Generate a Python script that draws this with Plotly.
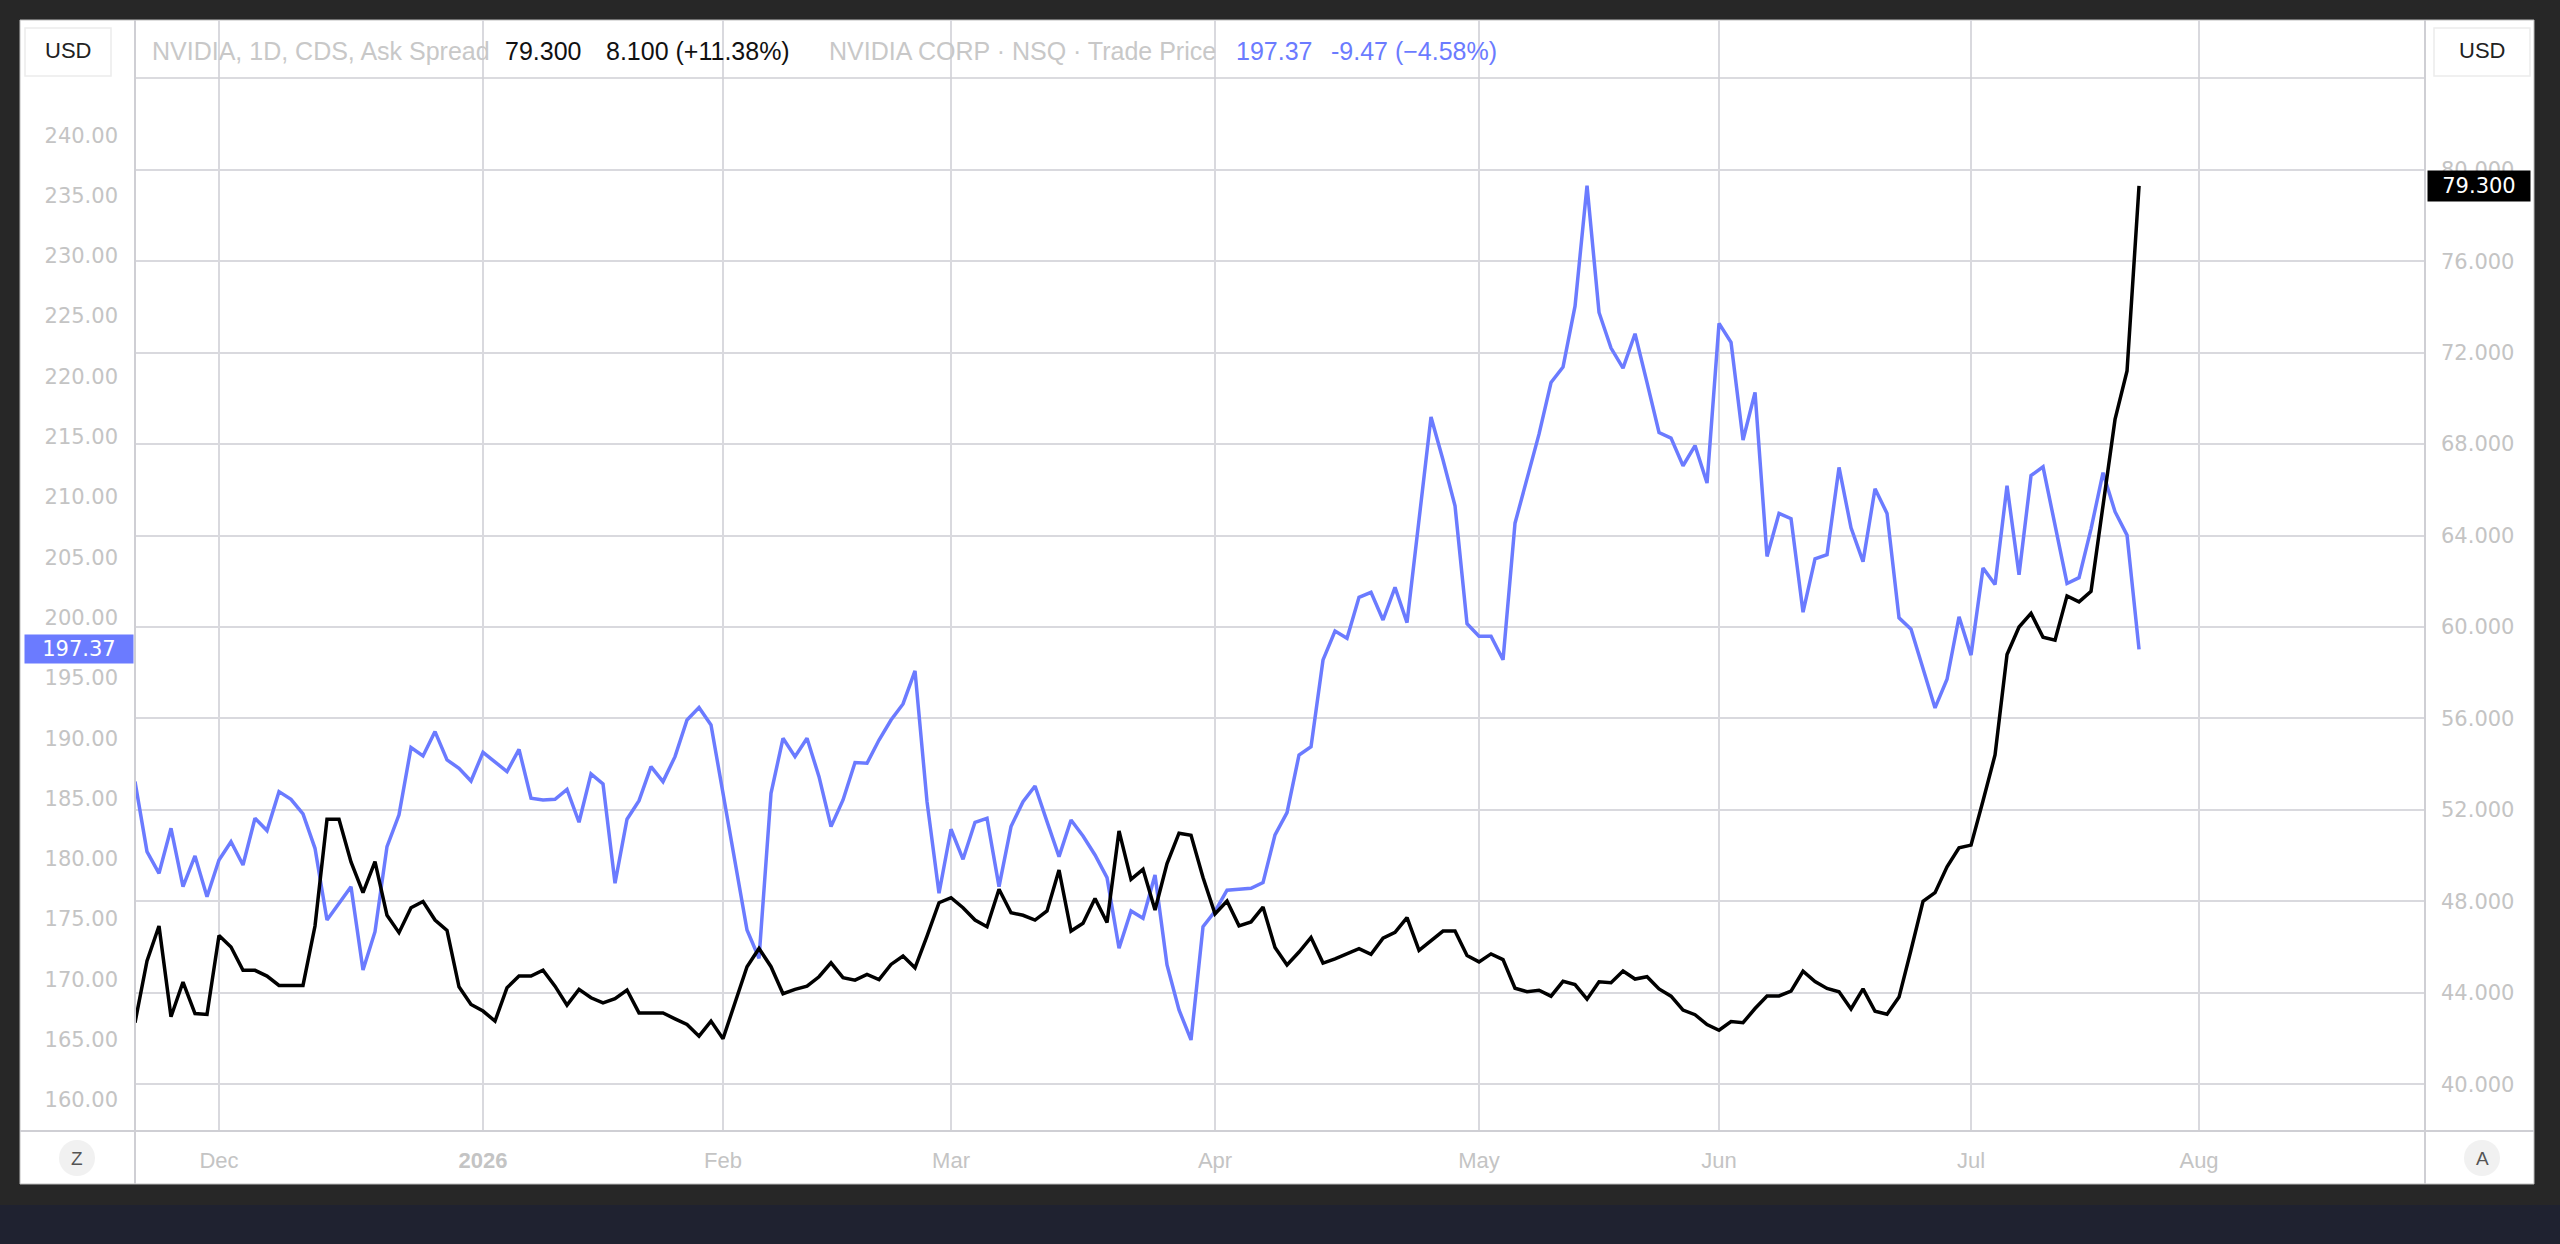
import pandas as pd
import plotly.graph_objects as go

# ---------------- data ----------------
holidays = ["2025-11-27", "2025-12-25", "2026-01-01", "2026-01-19",
            "2026-02-16", "2026-05-25", "2026-06-19", "2026-07-03"]
dates = pd.bdate_range("2025-11-19", "2026-07-22", freq="C",
                       holidays=holidays).strftime("%Y-%m-%d").tolist()

# NVIDIA, 1D, CDS, Ask Spread (right axis)
cds_ask_spread = [
    42.69, 45.39, 46.92, 42.95, 44.47, 43.09, 43.05, 46.51, 46.00, 44.98,
    44.98, 44.73, 44.32, 44.32, 44.32, 46.92, 51.59, 51.59, 49.72, 48.38,
    49.74, 47.39, 46.63, 47.72, 47.99, 47.18, 46.73, 44.26, 43.49, 43.20,
    42.76, 44.22, 44.73, 44.73, 44.99, 44.29, 43.46, 44.15, 43.78, 43.56,
    43.74, 44.12, 43.12, 43.12, 43.12, 42.86, 42.61, 42.10, 42.76, 41.99,
    43.59, 45.14, 45.94, 45.14, 43.96, 44.15, 44.29, 44.70, 45.31, 44.66,
    44.55, 44.80, 44.58, 45.24, 45.61, 45.09, 46.48, 47.94, 48.16, 47.72,
    47.18, 46.89, 48.53, 47.50, 47.39, 47.18, 47.58, 49.37, 46.70, 47.04,
    48.12, 47.07, 51.08, 48.96, 49.40, 47.62, 49.65, 50.98, 50.89, 49.04,
    47.45, 48.01, 46.93, 47.10, 47.75, 45.98, 45.22, 45.78, 46.42, 45.30,
    45.48, 45.72, 45.93, 45.68, 46.39, 46.64, 47.29, 45.85, 46.28, 46.70,
    46.70, 45.63, 45.35, 45.70, 45.45, 44.20, 44.05, 44.11, 43.85, 44.50,
    44.36, 43.72, 44.48, 44.44, 44.95, 44.60, 44.70, 44.17, 43.85, 43.24,
    43.04, 42.61, 42.36, 42.74, 42.69, 43.31, 43.86, 43.86, 44.07, 44.94,
    44.49, 44.19, 44.04, 43.29, 44.17, 43.19, 43.06, 43.81, 45.87, 48.00,
    48.38, 49.51, 50.34, 50.46, 52.40, 54.40, 58.80, 60.00, 60.60, 59.55,
    59.42, 61.36, 61.10, 61.56, 65.32, 69.08, 71.20, 79.30,
]

# NVIDIA CORP · NSQ · Trade Price (left axis)
trade_price = [
    186.40, 180.60, 178.80, 182.53, 177.69, 180.24, 176.86, 179.90, 181.42, 179.49,
    183.36, 182.34, 185.57, 184.93, 183.72, 180.87, 174.93, 176.31, 177.69, 170.78,
    173.96, 181.01, 183.64, 189.22, 188.53, 190.55, 188.20, 187.51, 186.45, 188.83,
    188.06, 187.23, 189.08, 185.02, 184.88, 184.93, 185.76, 183.03, 187.04, 186.21,
    177.97, 183.28, 184.82, 187.64, 186.40, 188.47, 191.51, 192.54, 191.10, 185.43,
    179.77, 174.10, 171.75, 185.43, 189.99, 188.47, 189.99, 186.81, 182.67, 184.88,
    187.98, 187.92, 189.85, 191.51, 192.84, 195.58, 184.74, 177.14, 182.45, 179.96,
    183.03, 183.36, 177.69, 182.67, 184.74, 186.04, 183.08, 180.18, 183.22, 181.89,
    180.32, 178.44, 172.58, 175.68, 175.07, 178.66, 171.20, 167.47, 164.98, 174.38,
    175.65, 177.40, 177.47, 177.56, 178.03, 181.98, 183.83, 188.61, 189.30, 196.49,
    198.89, 198.28, 201.68, 202.10, 199.80, 202.51, 199.58, 208.31, 216.64, 213.07,
    209.26, 199.50, 198.46, 198.46, 196.50, 207.83, 211.64, 215.21, 219.49, 220.78,
    225.82, 235.82, 225.30, 222.35, 220.68, 223.54, 219.49, 215.35, 214.88, 212.59,
    214.26, 211.16, 224.40, 222.83, 214.73, 218.68, 205.07, 208.64, 208.21, 200.45,
    204.88, 205.21, 212.45, 207.45, 204.64, 210.69, 208.64, 199.98, 199.03, 195.69,
    192.51, 194.89, 200.07, 196.89, 204.12, 202.74, 210.93, 203.55, 211.78, 212.50,
    207.59, 202.83, 203.31, 207.36, 212.02, 208.78, 206.84, 197.37,
]

month_keys = ["2025-12", "2026-01", "2026-02", "2026-03", "2026-04",
              "2026-05", "2026-06", "2026-07"]
month_labels = ["Dec", "<b>2026</b>", "Feb", "Mar", "Apr", "May", "Jun", "Jul", "Aug"]
left_ticks = list(range(160, 241, 5))
right_ticks = list(range(40, 81, 4))

# ---------------- layout helpers ----------------
W, H = 2560, 1244
PL, PR, PT, PB = 135, 2425, 20, 1131          # plot area in pixels
AUG_SLOT = 172                                 # future bar slot for the Aug tick
X_MAX = 190.83


def xp(X):
    return (X - PL) / (PR - PL)


def yp(Y):
    return (PB - Y) / (PB - PT)


bar = list(range(len(dates)))
tickpos = [next(i for i, d in enumerate(dates) if d.startswith(m)) for m in month_keys]
tickpos.append(AUG_SLOT)

BLUE = "#6b7bff"
GRID = "#d9d9de"
DIV = "#cfcfd4"
TICKC = "#c4c4c4"
AXFONT = "DejaVu Sans"
TXTFONT = "Liberation Sans, Arial, sans-serif"

fig = go.Figure()
fig.add_trace(go.Scatter(x=bar, y=trade_price, customdata=dates, yaxis="y",
                         mode="lines", line=dict(color=BLUE, width=3.5),
                         name="NVIDIA CORP · NSQ · Trade Price", showlegend=False))
fig.add_trace(go.Scatter(x=bar, y=cds_ask_spread, customdata=dates, yaxis="y2",
                         mode="lines", line=dict(color="#000000", width=3.5),
                         name="NVIDIA, 1D, CDS, Ask Spread", showlegend=False))

shapes = [
    # white panel
    dict(type="rect", xref="paper", yref="paper", x0=xp(20), x1=xp(2534), y0=yp(1184), y1=yp(20),
         fillcolor="white", line=dict(color="#bdbdbd", width=1), layer="below"),
    # navy footer strip
    dict(type="rect", xref="paper", yref="paper", x0=xp(0), x1=xp(2560), y0=yp(1244), y1=yp(1205),
         fillcolor="#1f2230", line=dict(width=0), layer="below"),
    # header line
    dict(type="line", xref="paper", yref="paper", x0=xp(135), x1=xp(2425), y0=yp(78), y1=yp(78),
         line=dict(color=DIV, width=1.5), layer="above"),
    # bottom axis line
    dict(type="line", xref="paper", yref="paper", x0=xp(20), x1=xp(2534), y0=yp(1131), y1=yp(1131),
         line=dict(color=DIV, width=2), layer="above"),
    # left / right axis dividers
    dict(type="line", xref="paper", yref="paper", x0=xp(135), x1=xp(135), y0=yp(1184), y1=yp(20),
         line=dict(color=DIV, width=2), layer="above"),
    dict(type="line", xref="paper", yref="paper", x0=xp(2425), x1=xp(2425), y0=yp(1184), y1=yp(20),
         line=dict(color=DIV, width=2), layer="above"),
    # USD boxes
    dict(type="rect", xref="paper", yref="paper", x0=xp(25), x1=xp(111), y0=yp(76), y1=yp(28),
         fillcolor="white", line=dict(color="#ececec", width=1.5), layer="above"),
    dict(type="rect", xref="paper", yref="paper", x0=xp(2434), x1=xp(2530), y0=yp(76), y1=yp(28),
         fillcolor="white", line=dict(color="#ececec", width=1.5), layer="above"),
    # Z / A buttons
    dict(type="circle", xref="paper", yref="paper", x0=xp(59), x1=xp(95), y0=yp(1176), y1=yp(1140),
         fillcolor="#f1f1f1", line=dict(width=0), layer="above"),
    dict(type="circle", xref="paper", yref="paper", x0=xp(2464), x1=xp(2500), y0=yp(1176), y1=yp(1140),
         fillcolor="#f1f1f1", line=dict(width=0), layer="above"),
]

HY = yp(51)


def head(text, X, color):
    return dict(text=text, xref="paper", yref="paper", x=xp(X), y=HY, showarrow=False,
                xanchor="left", yanchor="middle", font=dict(family=TXTFONT, size=25, color=color))


annotations = [
    dict(text="USD", xref="paper", yref="paper", x=xp(68), y=HY, showarrow=False,
         xanchor="center", yanchor="middle", font=dict(family=TXTFONT, size=22, color="#222222")),
    dict(text="USD", xref="paper", yref="paper", x=xp(2482), y=HY, showarrow=False,
         xanchor="center", yanchor="middle", font=dict(family=TXTFONT, size=22, color="#222222")),
    head("NVIDIA, 1D, CDS, Ask Spread", 150, "#c8c8c8"),
    head("79.300", 503, "#111111"),
    head("8.100 (+11.38%)", 604, "#111111"),
    head("NVIDIA CORP · NSQ · Trade Price", 827, "#c8c8c8"),
    head("197.37", 1234, BLUE),
    head("-9.47 (−4.58%)", 1329, BLUE),
    dict(text="Z", xref="paper", yref="paper", x=xp(77), y=yp(1158), showarrow=False,
         xanchor="center", yanchor="middle", font=dict(family=TXTFONT, size=19, color="#555555")),
    dict(text="A", xref="paper", yref="paper", x=xp(2482), y=yp(1158), showarrow=False,
         xanchor="center", yanchor="middle", font=dict(family=TXTFONT, size=19, color="#555555")),
    # last-value price labels
    dict(text="197.37", xref="paper", yref="y", x=xp(134), y=trade_price[-1], showarrow=False,
         xanchor="right", yanchor="middle", align="center", width=108, height=28, borderpad=0,
         bgcolor=BLUE, font=dict(family=AXFONT, size=21, color="white")),
    dict(text="79.300", xref="paper", yref="y2", x=xp(2427), y=cds_ask_spread[-1], showarrow=False,
         xanchor="left", yanchor="middle", align="center", width=102, height=30, borderpad=0,
         bgcolor="#000000", font=dict(family=AXFONT, size=21, color="white")),
]

fig.update_layout(
    width=W, height=H,
    margin=dict(l=PL, r=W - PR, t=PT, b=H - PB, pad=0),
    paper_bgcolor="#272727",
    plot_bgcolor="white",
    showlegend=False,
    xaxis=dict(range=[0, X_MAX], tickmode="array", tickvals=tickpos, ticktext=month_labels,
               showgrid=True, gridcolor=GRID, gridwidth=1.5, zeroline=False, showline=False,
               ticks="", ticklabelstandoff=14,
               tickfont=dict(family=TXTFONT, size=22, color=TICKC)),
    yaxis=dict(range=[157.43, 249.552], tickmode="array", tickvals=left_ticks,
               ticktext=[f"{v:.2f}" for v in left_ticks], side="left",
               showgrid=False, zeroline=False, showline=False, ticks="", ticklabelstandoff=16,
               tickfont=dict(family=AXFONT, size=21, color=TICKC)),
    yaxis2=dict(range=[37.953, 86.553], tickmode="array", tickvals=right_ticks,
                ticktext=[f"{v:.3f}" for v in right_ticks], side="right", overlaying="y",
                showgrid=True, gridcolor=GRID, gridwidth=1.5, zeroline=False, showline=False,
                ticks="", ticklabelstandoff=15,
                tickfont=dict(family=AXFONT, size=21, color=TICKC)),
    shapes=shapes,
    annotations=annotations,
)

fig.write_html("out.html")
